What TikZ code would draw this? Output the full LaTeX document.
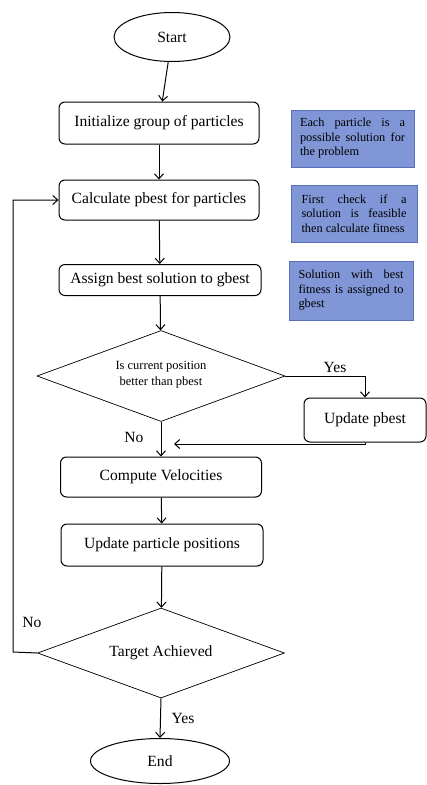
\documentclass[tikz,border=0pt]{standalone}
\usepackage{fontspec}
\setmainfont{Liberation Serif}
\usetikzlibrary{shapes.geometric,arrows.meta}
\definecolor{noteblue}{RGB}{128,150,214}
\definecolor{noteedge}{RGB}{88,112,188}
\newcommand\nohyphens{\hyphenpenalty=10000\relax\exhyphenpenalty=10000\relax}
\begin{document}
\begin{tikzpicture}[x=1pt,y=-1pt,
  box/.style={draw,rounded corners=6pt,line width=1pt,inner sep=0pt,font=\fontsize{15.6}{17}\selectfont},
  term/.style={draw,ellipse,line width=1pt,inner sep=0pt,font=\fontsize{15.6}{17}\selectfont},
  dec/.style={draw,diamond,inner sep=0pt,line width=0.7pt,aspect=2.7},
  note/.style={draw=noteedge,fill=noteblue,line width=0.9pt,inner xsep=0pt,inner ysep=0pt,align=justify,text width=105pt,font=\fontsize{12.3}{14.5}\selectfont\nohyphens},
  arr/.style={-{Straight Barb[length=5pt,width=9pt]},line width=1pt},
  lbl/.style={font=\fontsize{15.6}{17}\selectfont,inner sep=0pt}
]
\useasboundingbox (0,0) rectangle (427,785);

\node[term,minimum width=116pt,minimum height=49pt] (start) at (172,37) {Start};
\node[box,minimum width=200pt,minimum height=42pt] (init) at (159,123) {Initialize group of particles};
\node[box,minimum width=200pt,minimum height=40pt] (calc) at (159,200) {Calculate pbest for particles};
\node[box,minimum width=202pt,minimum height=31pt] (assign) at (160,280) {Assign best solution to gbest};
\node[dec,minimum width=248pt,minimum height=91pt] (d1) at (161,376) {};
\node[font=\fontsize{12.5}{16}\selectfont,align=center,inner sep=0pt] (d1t) at (161,375) {Is current position\\better than pbest};
\node[box,minimum width=122pt,minimum height=44pt] (upd) at (365,420) {Update pbest};
\node[box,minimum width=201pt,minimum height=40pt] (comp) at (161,477) {Compute Velocities};
\node[box,minimum width=202pt,minimum height=42pt] (updpos) at (162,545) {Update particle positions};
\node[dec,minimum width=247pt,minimum height=90pt,font=\fontsize{15.6}{17}\selectfont] (d2) at (161,653) {Target Achieved};
\node[term,minimum width=139pt,minimum height=45pt] (end) at (160,761) {End};

\node[note,minimum width=123pt,minimum height=57pt] (n1) at (352.5,138.5) {Each particle is a possible solution for the problem};
\node[note,minimum width=126pt,minimum height=57pt] (n2) at (354,213.5) {First check if a solution is feasible then calculate fitness};
\node[note,minimum width=124pt,minimum height=59pt] (n3) at (351,290.5) {Solution with best fitness is assigned to gbest};

\coordinate (jn) at (174,444);
\coordinate (lp) at (13,652);

\draw[arr] (start) -- (init);
\draw[arr] (init) -- (calc);
\draw[arr] (calc) -- (assign);
\draw[arr] (assign) -- (d1);
\draw[arr] (d1.east) -| (upd.north);
\draw[arr] (upd.south) |- (jn);
\draw[arr] (d1.south) -- (comp.north);
\draw[arr] (comp) -- (updpos);
\draw[arr] (updpos) -- (d2);
\draw[arr] (d2.west) -- (lp) |- (calc.west);
\draw[arr] (d2.south) -- (end.north);

\node[lbl] (yes1) at (335,367) {Yes};
\node[lbl] (no1) at (134,437) {No};
\node[lbl] (no2) at (32,622) {No};
\node[lbl] (yes2) at (183,718) {Yes};
\end{tikzpicture}
\end{document}
